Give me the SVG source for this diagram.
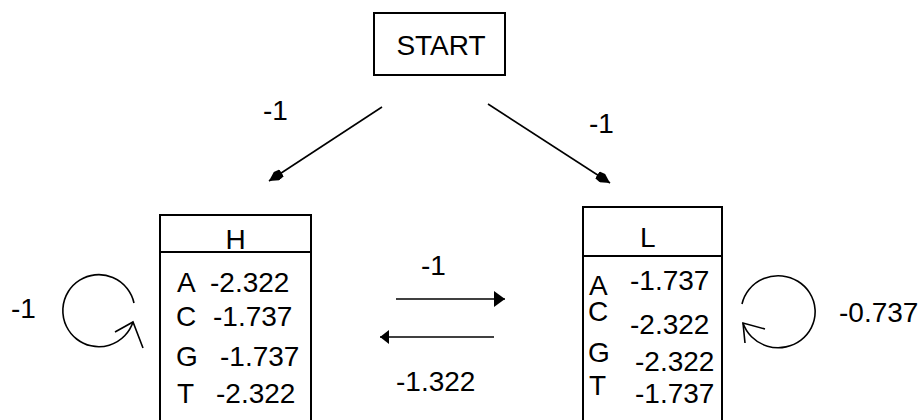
<svg xmlns="http://www.w3.org/2000/svg" width="921" height="420" viewBox="0 0 921 420">
  <style>
    text { font-family: "Liberation Sans", Arial, sans-serif; font-size: 28px; fill: #000; }
    .box { fill: #fff; stroke: #000; stroke-width: 2; }
    .rule { stroke: #000; stroke-width: 2; }
    .edge { fill: none; stroke: #000; stroke-width: 1.6; }
    .mid { text-anchor: middle; }
  </style>
  <defs>
    <marker id="wedge" markerUnits="userSpaceOnUse" markerWidth="16" markerHeight="10" refX="15" refY="5" orient="auto">
      <path d="M0,1 L6,0 L15,5 L6,10 L0,9 z" fill="#000"/>
    </marker>
    <marker id="tri" markerUnits="userSpaceOnUse" markerWidth="12" markerHeight="17" refX="11" refY="8" orient="auto">
      <path d="M0,0 L11,8 L0,16 z" fill="#000"/>
    </marker>
    <marker id="triSmall" markerUnits="userSpaceOnUse" markerWidth="10" markerHeight="15" refX="9" refY="7" orient="auto">
      <path d="M0,0 L9,7 L0,14 z" fill="#000"/>
    </marker>
  </defs>

  <!-- transitions -->
  <g id="connectors">
    <line class="edge" x1="382" y1="107" x2="269" y2="181" marker-end="url(#wedge)"/>
    <line class="edge" x1="488" y1="104" x2="610" y2="183" marker-end="url(#wedge)"/>
    <line class="edge" x1="396" y1="299" x2="505" y2="299" stroke-width="2" marker-end="url(#tri)"/>
    <line class="edge" x1="494" y1="337" x2="380" y2="337" stroke-width="2" marker-end="url(#triSmall)"/>
    <!-- self loop on H -->
    <path class="edge" d="M134,303 A36,36 0 1 0 133,322"/>
    <polyline class="edge" points="115,332 133,322 143,348"/>
    <!-- self loop on L -->
    <path class="edge" d="M742,304 A37,36 0 1 1 743,323"/>
    <polyline class="edge" points="765,329 743,323 745,343"/>

    <text x="263" y="120">-1</text>
    <text x="589" y="133">-1</text>
    <text x="421" y="275">-1</text>
    <text x="396" y="391">-1.322</text>
    <text x="11" y="318">-1</text>
    <text x="839" y="322">-0.737</text>
  </g>

  <g id="start">
    <rect class="box" x="374" y="13" width="131" height="62"/>
    <text class="mid" x="441" y="55">START</text>
  </g>

  <g id="state-H">
    <rect class="box" x="160" y="215" width="151" height="220"/>
    <line class="rule" x1="160" y1="252" x2="311" y2="252"/>
    <text class="mid" x="235.5" y="249">H</text>
    <text x="177" y="292">A</text><text x="210" y="292">-2.322</text>
    <text x="176" y="326">C</text><text x="213" y="326">-1.737</text>
    <text x="176" y="366">G</text><text x="220" y="366">-1.737</text>
    <text x="177" y="403">T</text><text x="216" y="403">-2.322</text>
  </g>

  <g id="state-L">
    <rect class="box" x="583" y="207" width="139" height="230"/>
    <line class="rule" x1="583" y1="256" x2="722" y2="256"/>
    <text x="640" y="247">L</text>
    <text x="589" y="295">A</text><text x="630" y="290">-1.737</text>
    <text x="588" y="321">C</text><text x="630" y="334">-2.322</text>
    <text x="588" y="362">G</text><text x="635" y="371">-2.322</text>
    <text x="589" y="395">T</text><text x="635" y="403">-1.737</text>
  </g>
</svg>
